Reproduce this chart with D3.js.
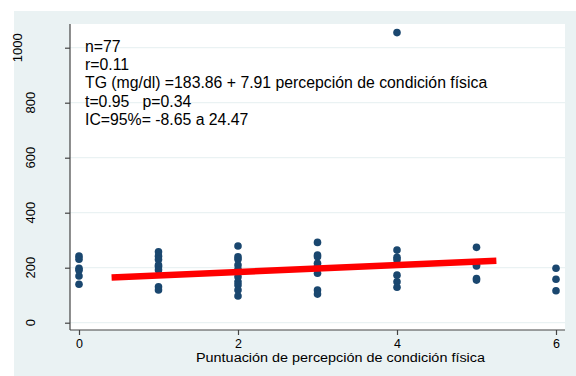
<!DOCTYPE html>
<html>
<head>
<meta charset="utf-8">
<script src="https://cdn.jsdelivr.net/npm/d3@7"></script>
<style>
  html, body { margin: 0; padding: 0; background: #ffffff; }
  svg { display: block; font-family: "Liberation Sans", Arial, sans-serif; }
</style>
</head>
<body>
<svg id="chart" width="576" height="376"></svg>
<script>
// Physical-condition self-rating (0–6) against triglycerides (mg/dl)
const scoreX = [0,0,0,0,0,0,
                1,1,1,1,1,1,1,1,
                2,2,2,2,2,2,2,2,2,2,2,
                3,3,3,3,3,3,3,3,
                4,4,4,4,4,4,4,
                5,5,5,5,5,
                6,6,6];
const tgY = [242,231,198,191,170,140,
             258,242,230,210,204,192,131,119,
             279,240,231,210,194,182,167,149,137,119,97,
             292,246,240,216,206,180,119,104,
             1055,264,238,229,173,149,129,
             274,210,206,161,155,
             198,158,116];

// Fitted line as drawn across the observed score range
const fitX = [0.41, 5.25];
const fitY = [164, 225.5];

const xTicks = [0, 2, 4, 6];
const yTicks = [0, 200, 400, 600, 800, 1000];
const xTitle = "Puntuación de percepción de condición física";
const notes = [
  "n=77",
  "r=0.11",
  "TG (mg/dl) =183.86 + 7.91 percepción de condición física",
  "t=0.95   p=0.34",
  "IC=95%= -8.65 a 24.47"
];

const svg = d3.select("#chart");
const plot = { left: 70, right: 565, top: 24, bottom: 330 };

const x = d3.scaleLinear().domain([0, 6]).range([79, 556]);
const y = d3.scaleLinear().domain([0, 1000]).range([322.7, 47.7]);

// outer graph region
svg.append("rect").attr("x", 14).attr("y", 11).attr("width", 562).attr("height", 365)
  .attr("fill", "#eaf2f3");
// plot region
svg.append("rect").attr("x", plot.left).attr("y", plot.top)
  .attr("width", plot.right - plot.left).attr("height", plot.bottom - plot.top)
  .attr("fill", "#ffffff");

// horizontal grid
svg.append("g").selectAll("line").data(yTicks).join("line")
  .attr("x1", plot.left).attr("x2", plot.right)
  .attr("y1", d => y(d)).attr("y2", d => y(d))
  .attr("stroke", "#eaf2f3").attr("stroke-width", 1.2);

// y axis
const gy = svg.append("g").attr("transform", `translate(${plot.left},0)`)
  .call(d3.axisLeft(y).tickValues(yTicks).tickSize(5).tickFormat(""));
gy.select(".domain").attr("d", `M0,${plot.top}V${plot.bottom}`).attr("stroke", "#444").attr("stroke-width", 1.2);
gy.selectAll(".tick line").attr("stroke", "#444").attr("stroke-width", 1.2);
svg.append("g").selectAll("text").data(yTicks).join("text")
  .attr("transform", d => {
    const s = String(d);
    const cx = s.length > 3 ? 17 : 30;
    return `translate(${cx + 4.5},${y(d)}) rotate(-90)`;
  })
  .attr("text-anchor", "middle")
  .attr("font-size", 13).attr("fill", "#000")
  .text(d => d);

// x axis
const gx = svg.append("g").attr("transform", `translate(0,${plot.bottom})`)
  .call(d3.axisBottom(x).tickValues(xTicks).tickSize(5).tickFormat(d => d));
gx.select(".domain").attr("d", `M${plot.left},0H${plot.right}`).attr("stroke", "#444").attr("stroke-width", 1.2);
gx.selectAll(".tick line").attr("stroke", "#444").attr("stroke-width", 1.2);
gx.selectAll(".tick text").attr("font-size", 12.5).attr("fill", "#000")
  .attr("font-family", "Liberation Sans, Arial, sans-serif").attr("dy", null).attr("y", 18.2);

svg.append("text").attr("x", 340.5).attr("y", 362).attr("text-anchor", "middle")
  .attr("font-size", 12).attr("fill", "#000")
  .attr("textLength", 289).attr("lengthAdjust", "spacingAndGlyphs")
  .text(xTitle);

// points
svg.append("g").selectAll("circle").data(scoreX.map((d, i) => [d, tgY[i]])).join("circle")
  .attr("cx", d => x(d[0])).attr("cy", d => y(d[1])).attr("r", 3.8)
  .attr("fill", "#1a476f");

// fitted line
svg.append("line")
  .attr("x1", x(fitX[0])).attr("y1", y(fitY[0]))
  .attr("x2", x(fitX[1])).attr("y2", y(fitY[1]))
  .attr("stroke", "#ff0000").attr("stroke-width", 6.5);

// regression notes
svg.append("g").selectAll("text").data(notes).join("text")
  .attr("x", 85).attr("y", (d, i) => 51.7 + i * 18.3)
  .attr("font-size", 15.8).attr("fill", "#000")
  .attr("xml:space", "preserve").style("white-space", "pre")
  .text(d => d);
</script>
</body>
</html>
